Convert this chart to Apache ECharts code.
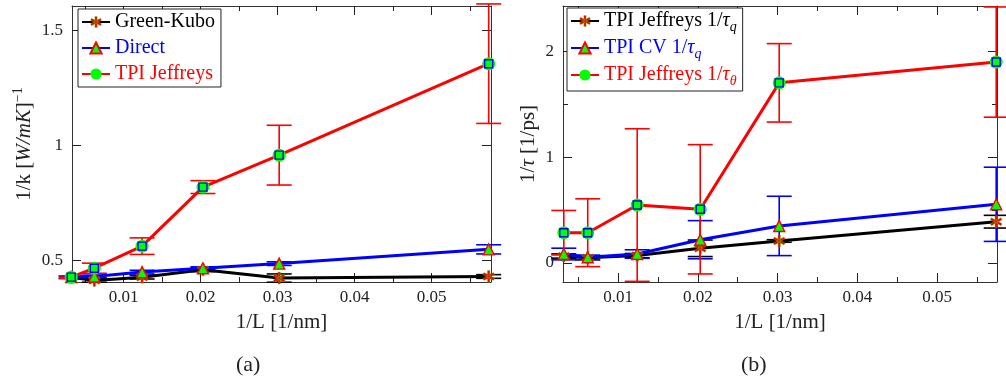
<!DOCTYPE html>
<html>
<head>
<meta charset="utf-8">
<script src="https://cdn.jsdelivr.net/npm/echarts@6/dist/echarts.min.js"></script>
<style>html,body{margin:0;padding:0;background:#fff}#c{width:1006px;height:386px}</style>
</head>
<body>
<div id="c"></div>
<script>
// ---------- data ----------
const xL = [0.0032, 0.0062, 0.0124, 0.0203, 0.0302, 0.0574];
// panel (a)
const greenKubo    = [0.427, 0.413, 0.427, 0.459, 0.423, 0.430];
const greenKuboErr = [0.005, 0.008, 0.008, 0.008, 0.018, 0.008];
const direct       = [0.427, 0.430, 0.449, 0.466, 0.486, 0.548];
const directErr    = [0.005, 0.006, 0.008, 0.006, 0.008, 0.020];
const tpiJeffreys    = [0.427, 0.466, 0.562, 0.819, 0.958, 1.356];
const tpiJeffreysErr = [0.006, 0.022, 0.036, 0.028, 0.130, 0.260];
// panel (b)
const tauQJeffreys    = [0.066, 0.050, 0.070, 0.139, 0.208, 0.390];
const tauQJeffreysErr = [0.020, 0.020, 0.020, 0.078, 0.012, 0.060];
const tauQCV          = [0.085, 0.054, 0.085, 0.220, 0.350, 0.554];
const tauQCVErr       = [0.055, 0.020, 0.040, 0.180, 0.280, 0.350];
const tauTheta        = [0.286, 0.286, 0.547, 0.507, 1.700, 1.896];
const tauThetaErr     = [0.210, 0.320, 0.720, 0.610, 0.370, 0.520];
// ticks
const xTicks      = [0.01, 0.02, 0.03, 0.04, 0.05];
const xMinorTicks = [0.005, 0.015, 0.025, 0.035, 0.045, 0.055];
const yTicksA     = [0.5, 1, 1.5];
const yTicksB     = [0, 1, 2];
const yMinorB     = [0.5, 1.5];

// ---------- helpers ----------
const FONT = 'Liberation Serif';
const RED = '#ff0000', BLUE = '#0000ff', BLACK = '#000000', GREEN = '#00ff00';
const STAR = 'path://M-2,-10L2,-10L2,10L-2,10Z M7.66,-6.73L9.66,-3.27L-7.66,6.73L-9.66,3.27Z M-9.66,-3.27L-7.66,-6.73L9.66,3.27L7.66,6.73Z';
const STAR_STYLE = { color: RED, borderColor: GREEN, borderWidth: 0.3 };
const pts = (xs, ys) => xs.map((x, i) => [x, ys[i]]);
const errData = (xs, ys, es) => xs.map((x, i) => [x, ys[i] - es[i], ys[i] + es[i]]);

function errSeries(xi, yi, ys, es, color) {
  return {
    type: 'custom', xAxisIndex: xi, yAxisIndex: yi, silent: true, clip: false, z: 2,
    data: errData(xL, ys, es), encode: { x: 0, y: [1, 2] },
    renderItem: function (params, api) {
      const x = api.value(0);
      const a = api.coord([x, api.value(1)]);
      const b = api.coord([x, api.value(2)]);
      const hw = 12.5;
      const st = { stroke: color, lineWidth: 1.6 };
      return { type: 'group', children: [
        { type: 'line', shape: { x1: a[0], y1: a[1], x2: b[0], y2: b[1] }, style: st },
        { type: 'line', shape: { x1: a[0] - hw, y1: a[1], x2: a[0] + hw, y2: a[1] }, style: st },
        { type: 'line', shape: { x1: b[0] - hw, y1: b[1], x2: b[0] + hw, y2: b[1] }, style: st }
      ] };
    }
  };
}
function lineSeries(name, xi, yi, ys, color, kind) {
  const s = { type: 'line', name: name, xAxisIndex: xi, yAxisIndex: yi, data: pts(xL, ys), clip: false, z: 2,
    lineStyle: { color: color, width: 3 }, showAllSymbol: true };
  if (kind === 'star') { s.symbol = STAR; s.symbolSize = 12; s.itemStyle = STAR_STYLE; }
  if (kind === 'tri') { s.symbol = 'triangle'; s.symbolSize = 11; s.itemStyle = { color: GREEN, borderColor: RED, borderWidth: 1.4 }; }
  if (kind === 'circ') { s.symbol = 'circle'; s.symbolSize = 13; s.itemStyle = { color: GREEN, borderWidth: 0 }; }
  return s;
}
function squareSeries(xi, yi, ys) {
  return { type: 'scatter', xAxisIndex: xi, yAxisIndex: yi, data: pts(xL, ys), silent: true, clip: false, z: 5,
    symbol: 'rect', symbolSize: 8, itemStyle: { color: GREEN, borderColor: BLUE, borderWidth: 1.4, opacity: 1 } };
}
const axLine = { show: true, onZero: false, lineStyle: { color: '#333', width: 1 } };
const noLine = { show: false, onZero: false };
const NAME_STYLE = { fontFamily: FONT, fontSize: 21, color: '#222' };
function xAx(grid, min, max, pos, values, len, labels, name) {
  return { type: 'value', gridIndex: grid, min: min, max: max, position: pos,
    axisLine: (labels || (pos === 'top' && len === 9)) ? axLine : noLine,
    axisTick: { show: true, inside: true, length: len, customValues: values, lineStyle: { color: '#222', width: 1 } },
    axisLabel: labels ? { show: true, customValues: labels, margin: 7, fontFamily: FONT, fontSize: 17, color: '#222',
      formatter: v => String(v) } : { show: false },
    splitLine: { show: false },
    name: name || '', nameLocation: 'middle', nameGap: 30,
    nameTextStyle: NAME_STYLE };
}
function yAx(grid, min, max, pos, values, len, labels, showLine, name, gap, rich) {
  return { type: 'value', gridIndex: grid, min: min, max: max, position: pos,
    axisLine: showLine ? axLine : noLine,
    axisTick: { show: true, inside: true, length: len, customValues: values, lineStyle: { color: '#222', width: 1 } },
    axisLabel: labels ? { show: true, customValues: labels, margin: 9, fontFamily: FONT, fontSize: 17, color: '#222',
      formatter: v => String(v) } : { show: false },
    splitLine: { show: false },
    name: name || '', nameLocation: 'middle', nameGap: gap || 0, nameRotate: 90,
    nameTextStyle: Object.assign({}, NAME_STYLE, { rich: rich || {} }) };
}

const XA0 = 0.0033, XA1 = 0.0577, XB0 = 0.0031, XB1 = 0.0575;
const YA0 = 0.406, YA1 = 1.607, YB0 = -0.179, YB1 = 2.425;

const richY = {
  n: { fontFamily: FONT, fontSize: 21, color: '#222', lineHeight: 26 },
  i: { fontFamily: FONT, fontSize: 21, fontStyle: 'italic', color: '#222', lineHeight: 26 },
  sup: { fontFamily: FONT, fontSize: 14, color: '#222', lineHeight: 13, verticalAlign: 'top' }
};
const legRich = {
  t: { fontFamily: FONT, fontSize: 20, lineHeight: 26 },
  i: { fontFamily: FONT, fontSize: 20, fontStyle: 'italic', lineHeight: 26 },
  s: { fontFamily: FONT, fontSize: 14, fontStyle: 'italic', lineHeight: 12, verticalAlign: 'bottom' }
};
const legLabels = {
  'TPI Jeffreys 1/τq': '{t|TPI Jeffreys 1/}{i|τ}{s|q}',
  'TPI CV 1/τq': '{t|TPI CV 1/}{i|τ}{s|q}',
  'TPI Jeffreys 1/τθ': '{t|TPI Jeffreys 1/}{i|τ}{s|θ}'
};

const option = {
  animation: false,
  backgroundColor: '#fff',
  grid: [
    { left: 72, right: 515, top: 6, bottom: 104, containLabel: false },
    { left: 563, right: 9, top: 6, bottom: 104, containLabel: false }
  ],
  xAxis: [
    xAx(0, XA0, XA1, 'bottom', xTicks, 9, xTicks, '1/L [1/nm]'),
    xAx(0, XA0, XA1, 'bottom', xMinorTicks, 5, false),
    xAx(0, XA0, XA1, 'top', xTicks, 9, false),
    xAx(0, XA0, XA1, 'top', xMinorTicks, 5, false),
    xAx(1, XB0, XB1, 'bottom', xTicks, 9, xTicks, '1/L [1/nm]'),
    xAx(1, XB0, XB1, 'bottom', xMinorTicks, 5, false),
    xAx(1, XB0, XB1, 'top', xTicks, 9, false),
    xAx(1, XB0, XB1, 'top', xMinorTicks, 5, false)
  ],
  yAxis: [
    yAx(0, YA0, YA1, 'left', yTicksA, 9, yTicksA, true, '{n|1/k [}{i|W/mK}{n|]}{sup|−1}', 35, richY),
    yAx(0, YA0, YA1, 'right', yTicksA, 9, false, true),
    yAx(1, YB0, YB1, 'left', yTicksB, 9, yTicksB, true, '{n|1/}{i|τ}{n| [1/ps]}', 22, richY),
    yAx(1, YB0, YB1, 'left', yMinorB, 5, false, false),
    yAx(1, YB0, YB1, 'right', yTicksB, 9, false, true),
    yAx(1, YB0, YB1, 'right', yMinorB, 5, false, false)
  ],
  legend: [
    { orient: 'vertical', left: 78, top: 9, padding: [3, 6, 3, 3], itemWidth: 28, itemHeight: 14, itemGap: 6,
      backgroundColor: '#fff', borderColor: '#222', borderWidth: 1, borderRadius: 0,
      textStyle: { fontFamily: FONT, fontSize: 20 },
      data: [
        { name: 'Green-Kubo', textStyle: { color: BLACK }, itemStyle: STAR_STYLE },
        { name: 'Direct', textStyle: { color: BLUE } },
        { name: 'TPI Jeffreys', textStyle: { color: RED } }
      ] },
    { orient: 'vertical', left: 567, top: 8, padding: [3, 6, 3, 3], itemWidth: 28, itemHeight: 14, itemGap: 4,
      backgroundColor: '#fff', borderColor: '#222', borderWidth: 1, borderRadius: 0,
      textStyle: { fontFamily: FONT, fontSize: 21, rich: legRich },
      formatter: name => legLabels[name] || name,
      data: [
        { name: 'TPI Jeffreys 1/τq', textStyle: { color: BLACK }, itemStyle: STAR_STYLE },
        { name: 'TPI CV 1/τq', textStyle: { color: BLUE } },
        { name: 'TPI Jeffreys 1/τθ', textStyle: { color: RED } }
      ] }
  ],
  graphic: [
    { type: 'text', left: 236, top: 354, style: { text: '(a)', fontFamily: FONT, fontSize: 22, fill: '#222' } },
    { type: 'text', left: 741, top: 354, style: { text: '(b)', fontFamily: FONT, fontSize: 22, fill: '#222' } }
  ],
  series: [
    // panel (a)
    errSeries(0, 0, greenKubo, greenKuboErr, BLACK),
    lineSeries('Green-Kubo', 0, 0, greenKubo, BLACK, 'star'),
    errSeries(0, 0, direct, directErr, BLUE),
    lineSeries('Direct', 0, 0, direct, BLUE, 'tri'),
    errSeries(0, 0, tpiJeffreys, tpiJeffreysErr, RED),
    lineSeries('TPI Jeffreys', 0, 0, tpiJeffreys, RED, 'circ'),
    squareSeries(0, 0, tpiJeffreys),
    // panel (b)
    errSeries(4, 2, tauQJeffreys, tauQJeffreysErr, BLACK),
    lineSeries('TPI Jeffreys 1/τq', 4, 2, tauQJeffreys, BLACK, 'star'),
    errSeries(4, 2, tauQCV, tauQCVErr, BLUE),
    lineSeries('TPI CV 1/τq', 4, 2, tauQCV, BLUE, 'tri'),
    errSeries(4, 2, tauTheta, tauThetaErr, RED),
    lineSeries('TPI Jeffreys 1/τθ', 4, 2, tauTheta, RED, 'circ'),
    squareSeries(4, 2, tauTheta)
  ]
};
const chart = echarts.init(document.getElementById('c'), null, { renderer: 'canvas' });
chart.setOption(option);
</script>
</body>
</html>
